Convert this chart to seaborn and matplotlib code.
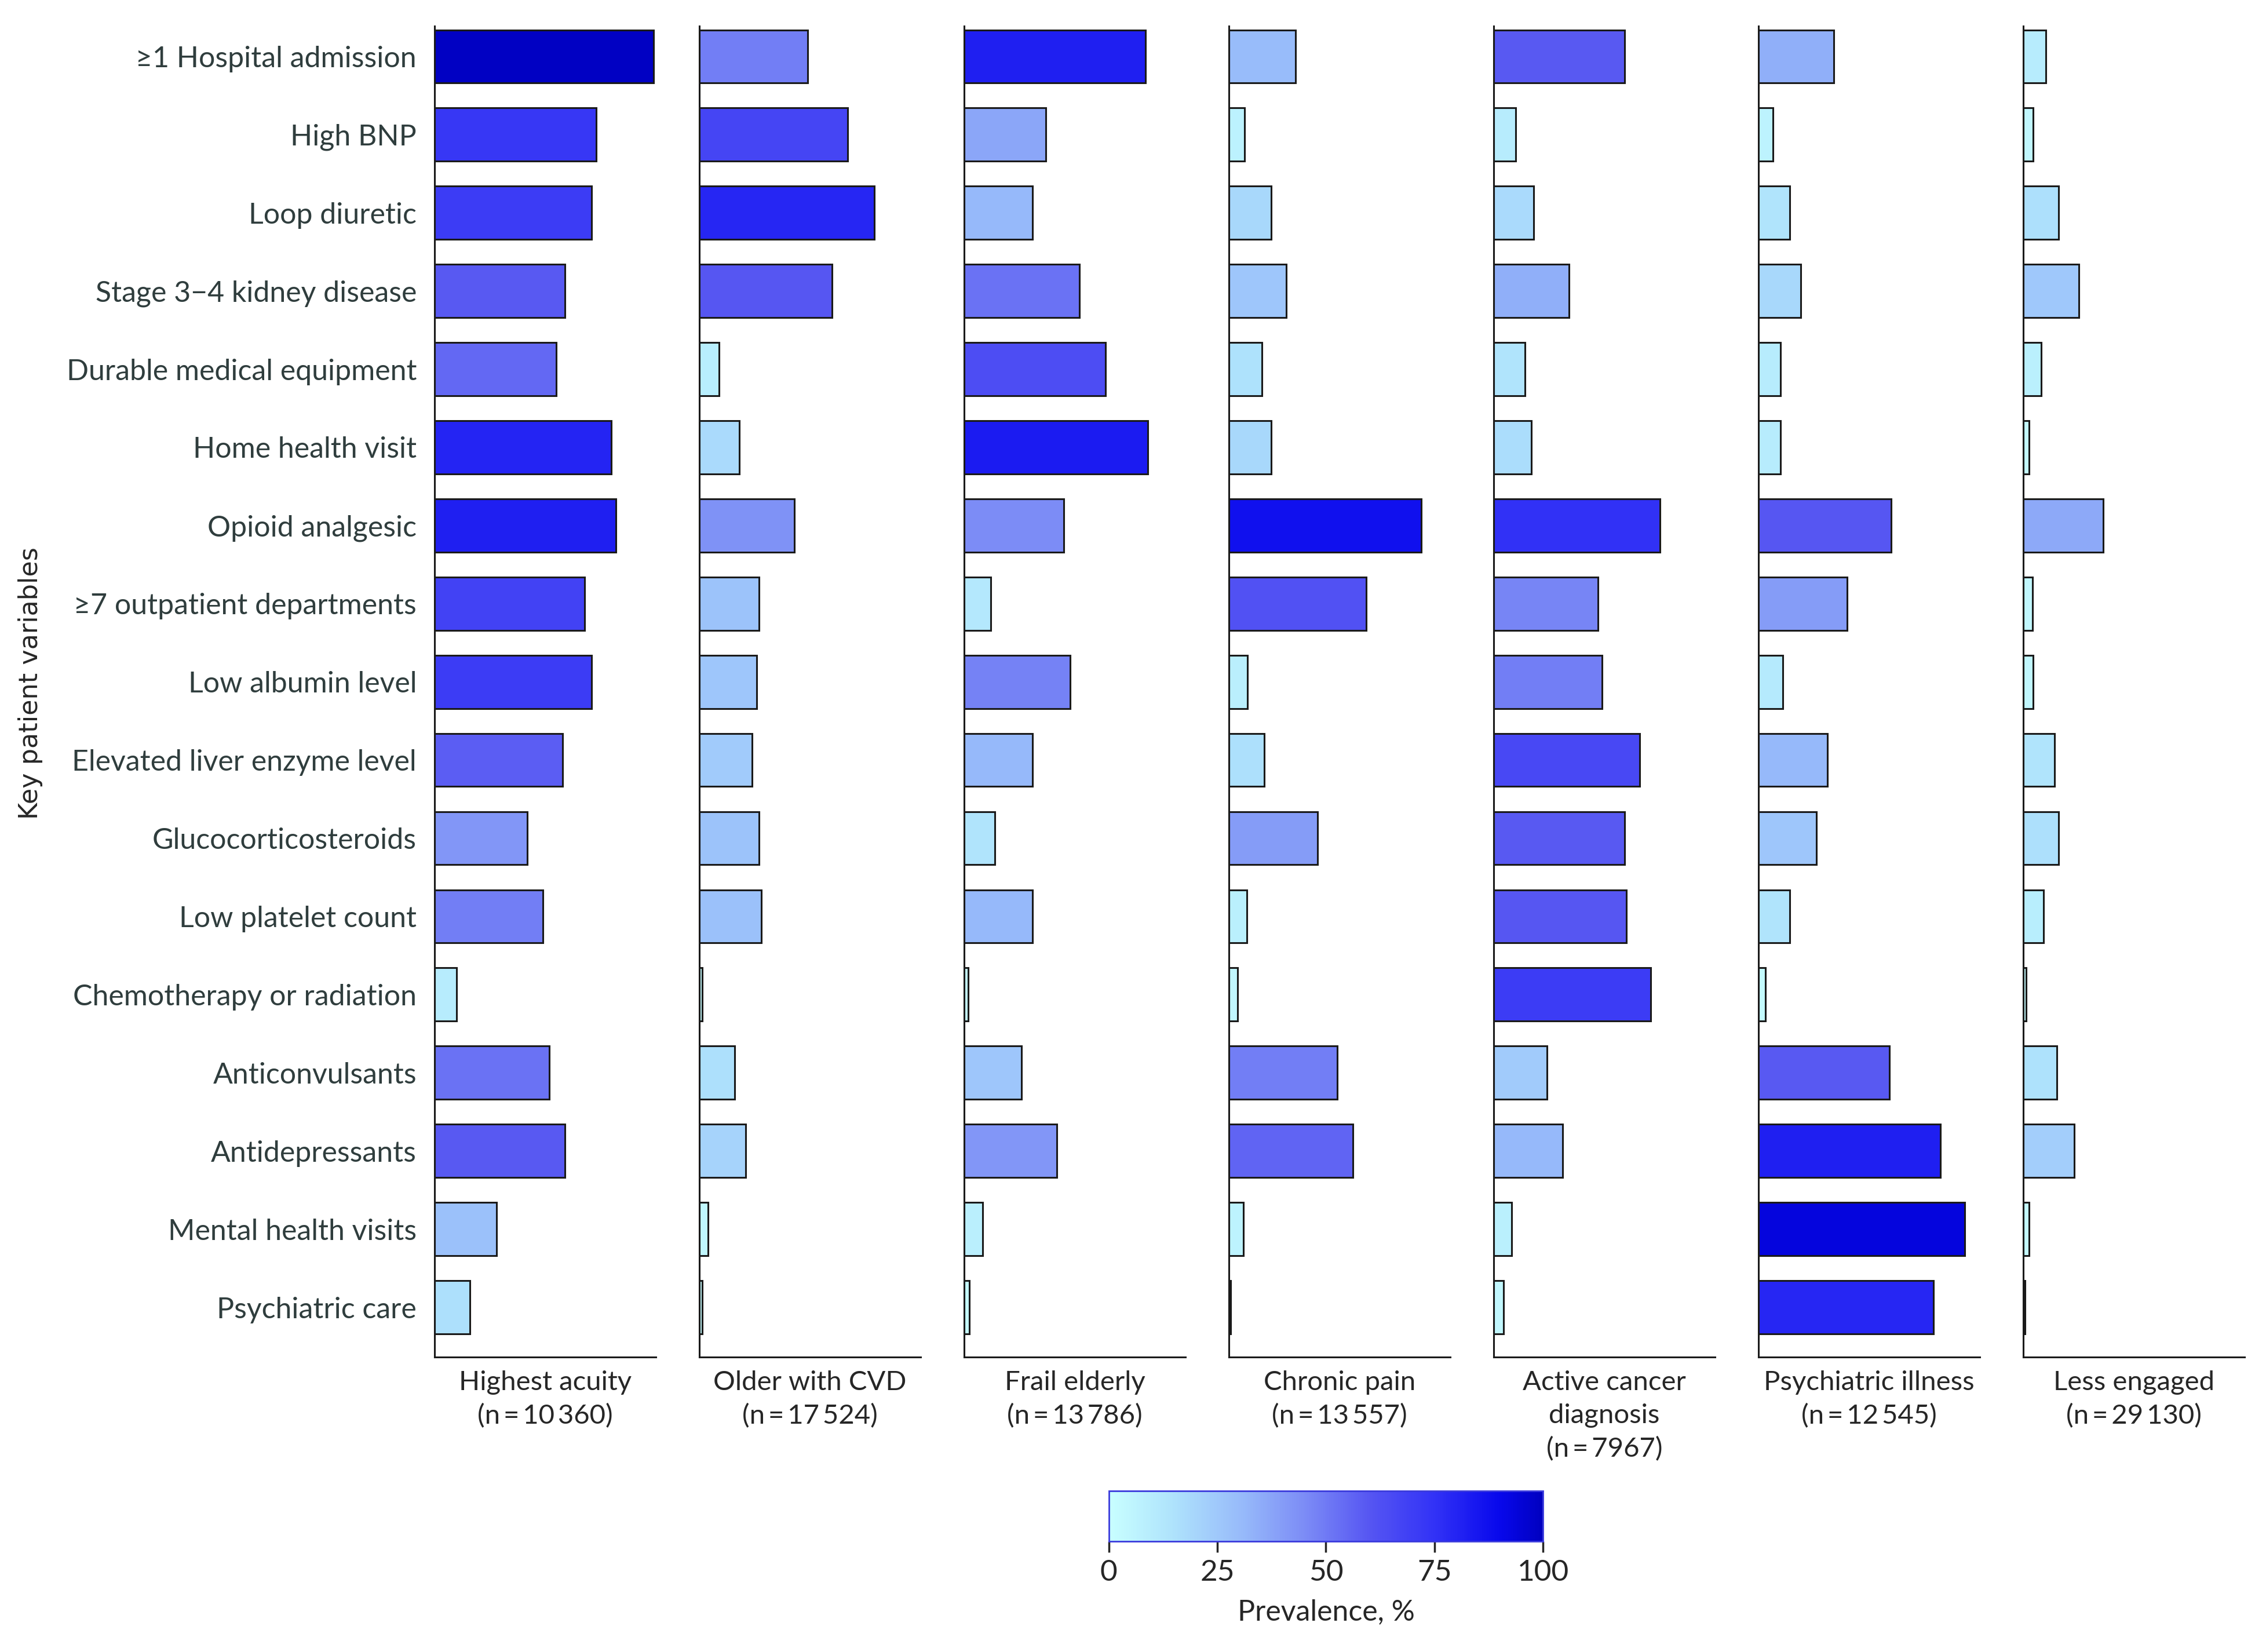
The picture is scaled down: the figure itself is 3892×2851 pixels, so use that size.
import numpy as np
import pandas as pd
import matplotlib
matplotlib.use("Agg")
import matplotlib.pyplot as plt
import seaborn as sns
from matplotlib.colors import LinearSegmentedColormap, Normalize
from matplotlib.cm import ScalarMappable

variables = ["\u22651 Hospital admission", "High BNP", "Loop diuretic",
             "Stage 3\u22124 kidney disease", "Durable medical equipment",
             "Home health visit", "Opioid analgesic", "\u22657 outpatient departments",
             "Low albumin level", "Elevated liver enzyme level", "Glucocorticosteroids",
             "Low platelet count", "Chemotherapy or radiation", "Anticonvulsants",
             "Antidepressants", "Mental health visits", "Psychiatric care"]

groups = ["Highest acuity\n(n\u2009=\u200910\u2009360)",
          "Older with CVD\n(n\u2009=\u200917\u2009524)",
          "Frail elderly\n(n\u2009=\u200913\u2009786)",
          "Chronic pain\n(n\u2009=\u200913\u2009557)",
          "Active cancer\ndiagnosis\n(n\u2009=\u20097967)",
          "Psychiatric illness\n(n\u2009=\u200912\u2009545)",
          "Less engaged\n(n\u2009=\u200929\u2009130)"]

highest_acuity = [99, 73, 71, 59, 55, 80, 82, 68, 71, 58, 42, 49, 10, 52, 59, 28, 16]
older_cvd = [49, 67, 79, 60, 9, 18, 43, 27, 26, 24, 27, 28, 1.5, 16, 21, 4, 1.5]
frail_elderly = [82, 37, 31, 52, 64, 83, 45, 12, 48, 31, 14, 31, 2, 26, 42, 8.5, 2.5]
chronic_pain = [30, 7, 19, 26, 15, 19, 87, 62, 8.5, 16, 40, 8, 4, 49, 56, 6.5, 0.7]
active_cancer = [59, 10, 18, 34, 14, 17, 75, 47, 49, 66, 59, 60, 71, 24, 31, 8, 4.5]
psychiatric = [34, 6.5, 14, 19, 10, 10, 60, 40, 11, 31, 26, 14, 3, 59, 82, 93, 79]
less_engaged = [10, 4.5, 16, 25, 8, 2.5, 36, 4, 4.5, 14, 16, 9, 1.3, 15, 23, 2.5, 0.7]

all_values = [highest_acuity, older_cvd, frail_elderly, chronic_pain,
              active_cancer, psychiatric, less_engaged]

cmap = LinearSegmentedColormap.from_list("prev", [
    (0.00, "#C8FFFF"), (0.15, "#AEE2FC"), (0.30, "#98BCFA"), (0.45, "#7C8CF6"),
    (0.60, "#5656F2"), (0.75, "#3232F6"), (0.90, "#0808EC"), (1.00, "#0000C0")])
norm = Normalize(0, 100)

sns.set_style("white")
label_font = ["Lato", "DejaVu Sans"]

fig = plt.figure(figsize=(38.92, 28.51), dpi=100)

left0, width, step = 0.1926, 0.0982, 0.11745
bottom, top = 0.1784, 0.9843

for i, (grp, vals) in enumerate(zip(groups, all_values)):
    ax = fig.add_axes([left0 + i * step, bottom, width, top - bottom])
    df = pd.DataFrame({"variable": variables, "value": vals})
    colors = {v: cmap(norm(x)) for v, x in zip(variables, vals)}
    sns.barplot(data=df, x="value", y="variable", hue="variable", palette=colors,
                order=variables, hue_order=variables, legend=False, saturation=1,
                width=0.68, edgecolor="#1a1a1a", linewidth=2.2, ax=ax)
    ax.set_xlim(0, 100)
    ax.set_ylim(16.64, -0.39)
    sns.despine(ax=ax)
    for s in ["left", "bottom"]:
        ax.spines[s].set_linewidth(2.2)
        ax.spines[s].set_color("#1a1a1a")
    ax.set_xticks([])
    ax.set_xlabel(grp, fontsize=34, family=label_font, labelpad=16, linespacing=1.45)
    ax.tick_params(axis="y", length=0, pad=22)
    ax.set_ylabel("")
    if i == 0:
        for t in ax.get_yticklabels():
            t.set_fontsize(36)
            t.set_family(label_font)
            t.set_color("#2F3D3D")
    else:
        ax.set_yticklabels([])

fig.text(0.0135, 0.5866, "Key patient variables", rotation=90, fontsize=32,
         ha="center", va="center")

cax = fig.add_axes([0.4917, 0.067, 0.1926, 0.0305])
cb = fig.colorbar(ScalarMappable(norm=norm, cmap=cmap), cax=cax, orientation="horizontal")
cb.set_ticks([0, 25, 50, 75, 100])
cb.outline.set_edgecolor("#3A3ADC")
cb.outline.set_linewidth(2)
cax.tick_params(axis="x", length=14, width=2.5, labelsize=37, pad=8)
for t in cax.get_xticklabels():
    t.set_family(label_font)
cb.set_label("Prevalence, %", fontsize=36, family=label_font, labelpad=16)

fig.savefig("out.png", dpi=100, facecolor="white")
